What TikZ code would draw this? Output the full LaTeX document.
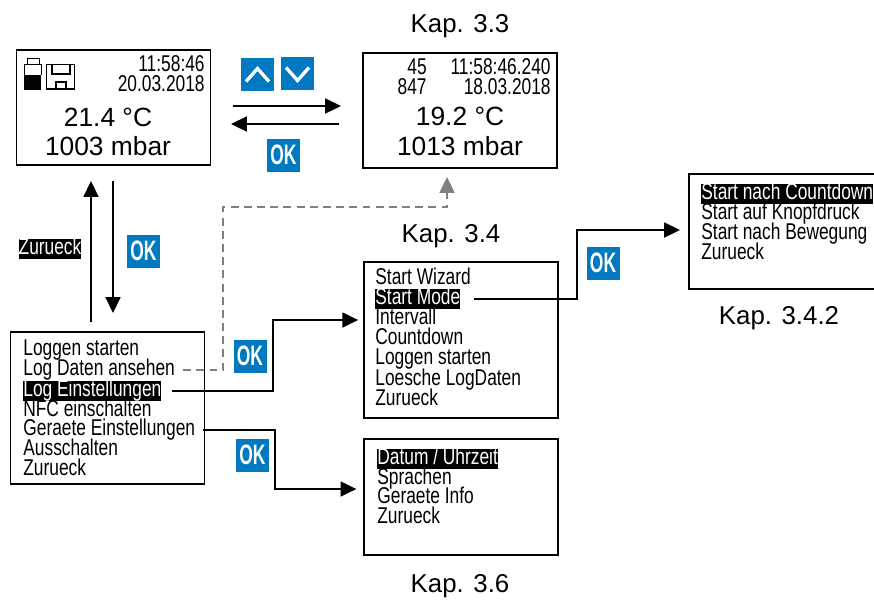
\documentclass[tikz,border=0pt]{standalone}
\usepackage{fontspec}
\setmainfont{Liberation Sans}
\newfontfamily\narrowfont[FakeStretch=0.76]{Liberation Sans}
\newfontfamily\okfont[FakeStretch=0.62]{Liberation Sans}
\usetikzlibrary{calc,arrows.meta}
\definecolor{keyblue}{HTML}{0079C1}
\tikzset{
  screen/.style={draw,line width=1.1pt,minimum width=3.88cm,minimum height=2.3cm,inner sep=0pt},
  menuitem/.style={anchor=west,yshift=-0.7pt,inner sep=0pt,text height=8.9pt,text depth=2.5pt,font=\narrowfont\fontsize{13}{14}\selectfont},
  menusel/.style={menuitem,fill=black,text=white},
  keybox/.style={fill=keyblue,minimum size=0.66cm,inner sep=0pt},
  oklabel/.style={keybox,text=white,font=\okfont\bfseries\fontsize{16}{16}\selectfont},
  chapter/.style={font=\fontsize{14.7}{17}\selectfont},
  value/.style={font=\fontsize{15}{17}\selectfont},
  clock/.style={anchor=east,inner sep=0pt,font=\narrowfont\fontsize{13}{14}\selectfont},
  link/.style={line width=1pt},
  greylink/.style={line width=1pt,draw=gray,dash pattern=on 4.5pt off 3pt}
}
\begin{document}
\begin{tikzpicture}[x=0.02cm,y=-0.02cm,>={Triangle[length=9pt,width=8.5pt]}]
  \useasboundingbox (0,0) rectangle (874,599);
  % main screen
  \node[screen] (mainbox) at (113.5,107.5) {};
  \node[clock] (maintime) at (205,64) {11:58:46};
  \node[clock] (maindate) at (205,84) {20.03.2018};
  \node[value] (maintemp) at (108,117) {21.4 °C};
  \node[value] (mainpres) at (108,146) {1003 mbar};
  \draw[line width=0.35pt] (27,64) -- (27,58) -- (39,58) -- (39,64);
  \draw[line width=0.35pt] (24,75) -- (24,64) -- (41,64) -- (41,75);
  \fill (24,75) rectangle (41,90);
  \draw[line width=1pt] (46.5,64.5) rectangle (74.5,89);
  \draw[line width=1pt] (52,65) -- (52,74) -- (70,74) -- (70,65);
  \draw[line width=1pt] (56,89) -- (56,82) -- (66,82) -- (66,89);
  % log screen
  \node[screen] (logbox) at (460,110.5) {};
  \node[chapter] (kap33) at (460,26) {Kap. 3.3};
  \node[clock] (logcount) at (427,67) {45};
  \node[clock] (lognum) at (427,87) {847};
  \node[clock] (logtime) at (551,67) {11:58:46.240};
  \node[clock] (logdate) at (551,87) {18.03.2018};
  \node[value] (logtemp) at (460,116) {19.2 °C};
  \node[value] (logpres) at (460,146) {1013 mbar};
  % keys
  \node[keybox] (keyup) at (257.5,74.5) {};
  \node[keybox] (keydown) at (297.5,73.5) {};
  \draw[white,line width=1.9pt] ($(keyup)+(-11.5,7)$) -- ($(keyup)+(0,-6)$) -- ($(keyup)+(11.5,7)$);
  \draw[white,line width=1.9pt] ($(keydown)+(-11.5,-6)$) -- ($(keydown)+(0,7)$) -- ($(keydown)+(11.5,-6)$);
  \node[oklabel] (okone) at (283.5,155) {OK};
  \node[oklabel] (oktwo) at (143.5,251) {OK};
  \node[oklabel] (okthree) at (250,356) {OK};
  \node[oklabel] (okfour) at (252.5,455) {OK};
  \node[oklabel] (okfive) at (603,263) {OK};
  \node[menusel,anchor=center] (back) at (50,248) {Zurueck};
  % main menu
  \node[screen,minimum height=3.04cm] (menubox) at (107.5,408) {};
  \node[menusel] (msel) at (23,390) {Log Einstellungen};
  \foreach \txt/\ypos/\name in {Loggen starten/349/mone,Log Daten ansehen/369/mtwo,NFC einschalten/410/mfour,Geraete Einstellungen/429/mfive,Ausschalten/449/msix,Zurueck/469/mseven}
    \node[menuitem] (\name) at (23,\ypos) {\txt};
  % log settings
  \node[screen,minimum height=3.12cm] (setbox) at (461,340) {};
  \node[chapter] (kap34) at (451,236) {Kap. 3.4};
  \node[menusel] (ssel) at (375,298) {Start Mode};
  \foreach \txt/\ypos/\name in {Start Wizard/278/sone,Intervall/318/sthree,Countdown/338/sfour,Loggen starten/358/sfive,Loesche LogDaten/379/ssix,Zurueck/399/sseven}
    \node[menuitem] (\name) at (375,\ypos) {\txt};
  % device settings
  \node[screen,minimum height=2.32cm] (devbox) at (461,497) {};
  \node[chapter] (kap36) at (460,586) {Kap. 3.6};
  \node[menusel] (dsel) at (377,458) {Datum / Uhrzeit};
  \foreach \txt/\ypos/\name in {Sprachen/478/dtwo,Geraete Info/497/dthree,Zurueck/517/dfour}
    \node[menuitem] (\name) at (377,\ypos) {\txt};
  % start mode, box runs off the page
  \coordinate (startedge) at (689,231);
  \draw[line width=1.1pt] (874,174) -- (689,174) -- (689,289) -- (874,289);
  \node[chapter] (kap342) at (779,318) {Kap. 3.4.2};
  \node[menusel] (tsel) at (701,193) {Start nach Countdown};
  \foreach \txt/\ypos/\name in {Start auf Knopfdruck/213/ttwo,Start nach Bewegung/233/tthree,Zurueck/253/tfour}
    \node[menuitem] (\name) at (701,\ypos) {\txt};
  % connectors
  \draw[->,link] (233,106) -- (341,106);
  \draw[->,link] (339,124) -- (231,124);
  \draw[->,link] (91,322) -- (91,181);
  \draw[->,link] (113,181) -- (113,313);
  \draw[->,link,shorten <=6pt,shorten >=2.8pt] (msel.east) -| (273,320) -- ($(setbox.west)+(0,-20)$);
  \draw[->,link,shorten <=4pt,shorten >=3.8pt] (mfive.east) -| (275,489) -- ($(devbox.west)+(0,-8)$);
  \draw[->,link,shorten <=7.5pt] (ssel.east) -| (577,230) -- ($(startedge)+(-9,-1)$);
  \draw[->,greylink,shorten <=4.5pt] (mtwo.east) -| (223,207) -- (447,207) -- ($(logbox.south)+(-13,8)$);
\end{tikzpicture}
\end{document}
